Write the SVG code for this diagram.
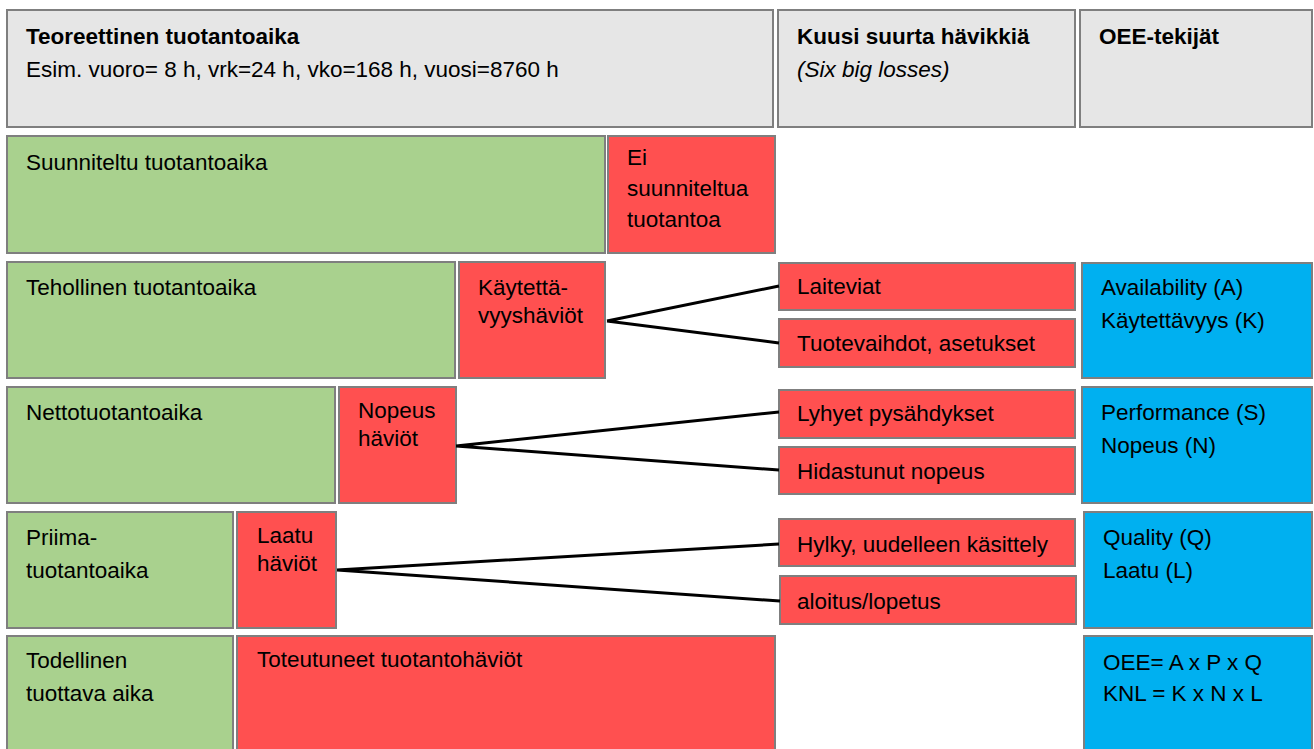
<svg xmlns="http://www.w3.org/2000/svg" width="1314" height="749" viewBox="0 0 1314 749">
<style>
rect{stroke:#7f7f7f;stroke-width:2}
.h{fill:#e6e6e6}
.g{fill:#a9d18e}
.r{fill:#ff5050}
.b{fill:#00b0f0}
text{font-family:"Liberation Sans",Arial,sans-serif;font-size:22.5px;fill:#000}
.bd{font-weight:bold}
.it{font-style:italic}
.c{stroke:#000;stroke-width:3;fill:none}
</style>
<rect width="1314" height="749" fill="#fff" style="stroke:none"/>
<g id="hdr-theory"><rect class="h" x="7" y="10" width="766" height="117"/><text class="bd" x="26" y="44">Teoreettinen tuotantoaika</text><text x="26" y="77">Esim. vuoro= 8 h, vrk=24 h, vko=168 h, vuosi=8760 h</text></g>
<g id="hdr-losses"><rect class="h" x="778" y="10" width="297" height="117"/><text class="bd" x="797" y="44">Kuusi suurta hävikkiä</text><text class="it" x="797" y="77">(Six big losses)</text></g>
<g id="hdr-oee"><rect class="h" x="1080" y="10" width="232" height="117"/><text class="bd" x="1099" y="44">OEE-tekijät</text></g>

<g id="planned"><rect class="g" x="7" y="136" width="598" height="117"/><text x="26" y="170">Suunniteltu tuotantoaika</text></g>
<g id="unplanned"><rect class="r" x="608" y="136" width="167" height="117"/><text x="627" y="165">Ei</text><text x="627" y="196">suunniteltua</text><text x="627" y="227">tuotantoa</text></g>

<g id="effective"><rect class="g" x="7" y="262" width="448" height="116"/><text x="26" y="295">Tehollinen tuotantoaika</text></g>
<g id="avail-loss"><rect class="r" x="459" y="262" width="146" height="116"/><text x="478" y="295">Käytettä-</text><text x="478" y="323">vyyshäviöt</text></g>
<g id="laiteviat"><rect class="r" x="779" y="263" width="296" height="47"/><text x="797" y="294">Laiteviat</text></g>
<g id="tuotevaihdot"><rect class="r" x="779" y="319" width="296" height="48"/><text x="797" y="351">Tuotevaihdot, asetukset</text></g>
<g id="availability"><rect class="b" x="1082" y="263" width="230" height="115"/><text x="1101" y="295">Availability (A)</text><text x="1101" y="328">Käytettävyys (K)</text></g>

<g id="net"><rect class="g" x="7" y="387" width="328" height="116"/><text x="26" y="420">Nettotuotantoaika</text></g>
<g id="speed-loss"><rect class="r" x="339" y="387" width="117" height="116"/><text x="358" y="418">Nopeus</text><text x="358" y="446">häviöt</text></g>
<g id="lyhyet"><rect class="r" x="779" y="390" width="296" height="48"/><text x="797" y="421">Lyhyet pysähdykset</text></g>
<g id="hidastunut"><rect class="r" x="779" y="447" width="296" height="47"/><text x="797" y="479">Hidastunut nopeus</text></g>
<g id="performance"><rect class="b" x="1082" y="387" width="230" height="116"/><text x="1101" y="420">Performance (S)</text><text x="1101" y="453">Nopeus (N)</text></g>

<g id="prime"><rect class="g" x="7" y="512" width="226" height="116"/><text x="26" y="545">Priima-</text><text x="26" y="578">tuotantoaika</text></g>
<g id="quality-loss"><rect class="r" x="237" y="512" width="99" height="116"/><text x="257" y="543">Laatu</text><text x="257" y="571">häviöt</text></g>
<g id="hylky"><rect class="r" x="779" y="519" width="296" height="47"/><text x="797" y="552">Hylky, uudelleen käsittely</text></g>
<g id="aloitus"><rect class="r" x="780" y="576" width="296" height="48"/><text x="797" y="609">aloitus/lopetus</text></g>
<g id="quality"><rect class="b" x="1084" y="512" width="228" height="116"/><text x="1103" y="545">Quality (Q)</text><text x="1103" y="578">Laatu (L)</text></g>

<g id="actual"><rect class="g" x="7" y="636" width="226" height="120"/><text x="26" y="668">Todellinen</text><text x="26" y="701">tuottava aika</text></g>
<g id="realized-loss"><rect class="r" x="237" y="636" width="538" height="120"/><text x="257" y="667">Toteutuneet tuotantohäviöt</text></g>
<g id="oee"><rect class="b" x="1084" y="636" width="228" height="120"/><text x="1103" y="670">OEE= A x P x Q</text><text x="1103" y="701">KNL = K x N x L</text></g>

<g id="connectors">
<path class="c" d="M607,321 L779,286 M607,321 L779,343"/>
<path class="c" d="M456,446 L779,412 M456,446 L779,470"/>
<path class="c" d="M337,570 L779,544 M337,570 L780,601"/>
</g>
</svg>
